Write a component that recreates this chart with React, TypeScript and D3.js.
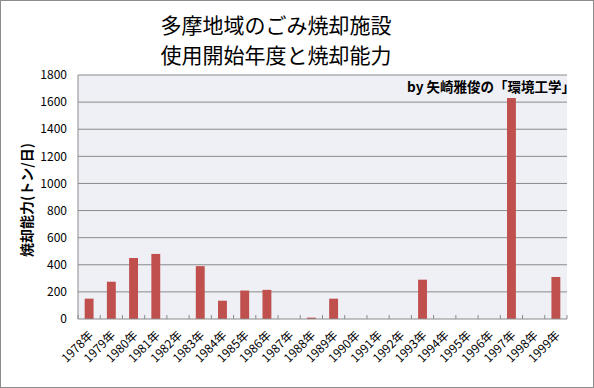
import { useEffect, useRef } from 'react'
import * as d3 from 'd3'

const years = [
  '1978年', '1979年', '1980年', '1981年', '1982年', '1983年', '1984年', '1985年',
  '1986年', '1987年', '1988年', '1989年', '1990年', '1991年', '1992年', '1993年',
  '1994年', '1995年', '1996年', '1997年', '1998年', '1999年',
]
const capacity = [150, 275, 450, 480, 0, 390, 135, 210, 215, 0, 10, 150, 0, 0, 0, 290, 0, 0, 0, 1630, 0, 310]
const yTicks = [0, 200, 400, 600, 800, 1000, 1200, 1400, 1600, 1800]

const titleLines = ['多摩地域のごみ焼却施設', '使用開始年度と焼却能力']
const credit = 'by  矢崎雅俊の「環境工学」'
const yTitle = '焼却能力(トン/日)'

const font = '"Noto Sans CJK JP", "Noto Sans", sans-serif'

export default function App() {
  const ref = useRef<SVGSVGElement>(null)

  useEffect(() => {
    document.body.style.margin = '0'
    if (!ref.current) return
    const W = 594
    const H = 388
    const margin = { top: 75, right: 27, bottom: 69, left: 78 }
    const inner = { w: W - margin.left - margin.right, h: H - margin.top - margin.bottom }

    d3.select(ref.current).selectAll('*').remove()
    const svg = d3.select(ref.current).attr('width', W).attr('height', H).style('font-family', font)

    // outer frame
    svg.append('rect')
      .attr('x', 0.5).attr('y', 0.5).attr('width', W - 1).attr('height', H - 1)
      .attr('fill', '#fff').attr('stroke', '#8c8c8c')

    // title
    svg.append('g').selectAll('text')
      .data(titleLines)
      .join('text')
      .attr('x', 276)
      .attr('y', (_, i) => 33 + i * 30)
      .attr('text-anchor', 'middle')
      .attr('font-size', 21)
      .attr('fill', '#000')
      .text((d) => d)

    const g = svg.append('g').attr('transform', `translate(${margin.left},${margin.top})`)

    const x = d3.scaleBand().domain(years).range([0, inner.w]).paddingInner(0.6).paddingOuter(0.3)
    const step = inner.w / years.length
    const y = d3.scaleLinear().domain([0, 1800]).range([inner.h, 0])

    g.append('rect').attr('width', inner.w).attr('height', inner.h).attr('fill', '#eef0f6')

    // grid
    g.append('g')
      .selectAll('line')
      .data(yTicks.slice(1))
      .join('line')
      .attr('x1', 0).attr('x2', inner.w)
      .attr('y1', (d) => y(d)).attr('y2', (d) => y(d))
      .attr('stroke', '#8a8a8a').attr('stroke-width', 1)

    // bars
    g.selectAll('.bar')
      .data(years.map((k, i) => ({ k, v: capacity[i] })))
      .join('rect')
      .attr('x', (d) => x(d.k)!)
      .attr('y', (d) => y(d.v))
      .attr('width', x.bandwidth())
      .attr('height', (d) => inner.h - y(d.v))
      .attr('fill', '#c0504d')

    // axes lines
    g.append('line').attr('x1', 0).attr('x2', 0).attr('y1', 0).attr('y2', inner.h).attr('stroke', '#8a8a8a')
    g.append('line').attr('x1', 0).attr('x2', inner.w).attr('y1', inner.h).attr('y2', inner.h).attr('stroke', '#8a8a8a')

    // category ticks (inside)
    g.append('g')
      .selectAll('line')
      .data(d3.range(years.length + 1))
      .join('line')
      .attr('x1', (i) => i * step).attr('x2', (i) => i * step)
      .attr('y1', inner.h - 4).attr('y2', inner.h)
      .attr('stroke', '#8a8a8a')

    // y tick labels
    g.append('g')
      .selectAll('text')
      .data(yTicks)
      .join('text')
      .attr('x', -11)
      .attr('y', (d) => y(d))
      .attr('dy', '0.35em')
      .attr('text-anchor', 'end')
      .attr('font-size', 12)
      .attr('fill', '#000')
      .text((d) => d)

    // x tick labels
    g.append('g')
      .selectAll('text')
      .data(years)
      .join('text')
      .attr('transform', (d) => `translate(${x(d)! + x.bandwidth() / 2 + 2},${inner.h + 14}) rotate(-45)`)
      .attr('text-anchor', 'end')
      .attr('dy', '0.35em')
      .attr('font-size', 12)
      .attr('fill', '#000')
      .text((d) => d)

    // y title
    svg.append('text')
      .attr('transform', `translate(32,${margin.top + 125}) rotate(-90)`)
      .attr('text-anchor', 'middle')
      .attr('font-size', 14)
      .attr('font-weight', 'bold')
      .attr('fill', '#000')
      .text(yTitle)

    // credit
    svg.append('text')
      .attr('x', 575)
      .attr('y', 92)
      .attr('text-anchor', 'end')
      .attr('font-size', 13.5)
      .attr('font-weight', 'bold')
      .attr('fill', '#000')
      .text(credit)
  }, [])

  return <svg ref={ref} style={{ display: 'block' }} />
}
